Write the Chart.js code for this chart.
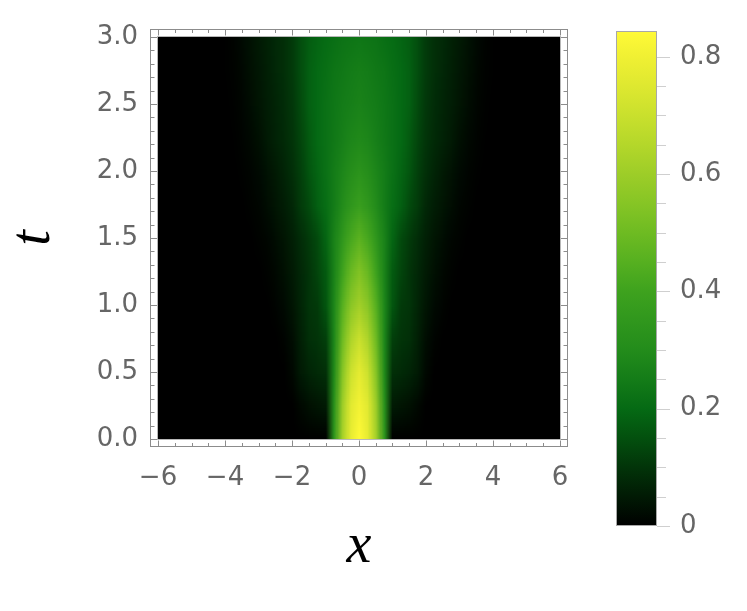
<!DOCTYPE html>
<html>
<head>
<meta charset="utf-8">
<script src="https://cdn.jsdelivr.net/npm/chart.js@4.4.1/dist/chart.umd.min.js"></script>
<style>
html,body{margin:0;padding:0;background:#ffffff;}
#wrap{position:relative;width:747px;height:611px;overflow:hidden;}
#main{position:absolute;left:0;top:0;}
#bar{position:absolute;left:590px;top:0;}
</style>
</head>
<body>
<div id="wrap">
<canvas id="main" width="747" height="611"></canvas>
<canvas id="bar" width="157" height="611"></canvas>
</div>
<script>
// ---- data ----
const xValues = [-6,-5.75,-5.5,-5.25,-5,-4.75,-4.5,-4.25,
                 -4,-3.75,-3.5,-3.25,-3,-2.75,-2.5,-2.25,
                 -2,-1.75,-1.5,-1.25,-1,-0.75,-0.5,-0.25,
                 0,
                 0.25,0.5,0.75,1,1.25,1.5,1.75,2,
                 2.25,2.5,2.75,3,3.25,3.5,3.75,4,
                 4.25,4.5,4.75,5,5.25,5.5,5.75,6];
const tValues = [0,0.25,0.5,0.75,1,1.25,1.5,1.75,2,2.25,2.5,2.75,3];

const d_t000 = [0,0,0,0,0,0,0,0, 0,0,0,0,0,0,0,0, 0,0,0,0,0,0.34,0.62,0.78, 0.844, 0.78,0.62,0.34,0,0,0,0,0, 0,0,0,0,0,0,0,0, 0,0,0,0,0,0,0,0];
const d_t025 = [0,0,0,0,0,0,0,0, 0,0,0,0,0,0,0,0, 0,0.015,0.03,0.04,0.05,0.32,0.60,0.76, 0.81, 0.76,0.60,0.32,0.05,0.04,0.03,0.015,0, 0,0,0,0,0,0,0,0, 0,0,0,0,0,0,0,0];
const d_t050 = [0,0,0,0,0,0,0,0, 0,0,0,0,0,0,0,0, 0.015,0.05,0.07,0.08,0.09,0.29,0.55,0.71, 0.77, 0.71,0.55,0.29,0.09,0.08,0.07,0.05,0.015, 0,0,0,0,0,0,0,0, 0,0,0,0,0,0,0,0];
const d_t075 = [0,0,0,0,0,0,0,0, 0,0,0,0,0,0,0,0.008, 0.025,0.06,0.09,0.10,0.12,0.28,0.50,0.64, 0.70, 0.64,0.50,0.28,0.12,0.10,0.09,0.06,0.025, 0.008,0,0,0,0,0,0,0, 0,0,0,0,0,0,0,0];
const d_t100 = [0,0,0,0,0,0,0,0, 0,0,0,0,0,0,0.008,0.02, 0.04,0.07,0.10,0.11,0.16,0.28,0.45,0.56, 0.61, 0.56,0.45,0.28,0.16,0.11,0.10,0.07,0.04, 0.02,0.008,0,0,0,0,0,0, 0,0,0,0,0,0,0,0];
const d_t125 = [0,0,0,0,0,0,0,0, 0,0,0,0,0,0.005,0.015,0.03, 0.05,0.075,0.10,0.13,0.17,0.27,0.40,0.49, 0.54, 0.49,0.40,0.27,0.17,0.13,0.10,0.075,0.05, 0.03,0.015,0.005,0,0,0,0,0, 0,0,0,0,0,0,0,0];
const d_t150 = [0,0,0,0,0,0,0,0, 0,0,0,0,0.005,0.012,0.025,0.04, 0.06,0.085,0.11,0.14,0.19,0.27,0.35,0.42, 0.46, 0.42,0.35,0.27,0.19,0.14,0.11,0.085,0.06, 0.04,0.025,0.012,0.005,0,0,0,0, 0,0,0,0,0,0,0,0];
const d_t175 = [0,0,0,0,0,0,0,0, 0,0,0,0.005,0.012,0.025,0.04,0.055, 0.075,0.11,0.14,0.18,0.21,0.25,0.30,0.35, 0.38, 0.35,0.30,0.25,0.21,0.18,0.14,0.11,0.075, 0.055,0.04,0.025,0.012,0.005,0,0,0, 0,0,0,0,0,0,0,0];
const d_t200 = [0,0,0,0,0,0,0,0, 0,0,0.004,0.01,0.02,0.035,0.05,0.07, 0.09,0.12,0.16,0.19,0.22,0.25,0.28,0.31, 0.33, 0.31,0.28,0.25,0.22,0.19,0.16,0.12,0.09, 0.07,0.05,0.035,0.02,0.01,0.004,0,0, 0,0,0,0,0,0,0,0];
const d_t225 = [0,0,0,0,0,0,0,0, 0,0.002,0.008,0.018,0.03,0.05,0.065,0.08, 0.10,0.13,0.17,0.20,0.22,0.24,0.26,0.28, 0.29, 0.28,0.26,0.24,0.22,0.20,0.17,0.13,0.10, 0.08,0.065,0.05,0.03,0.018,0.008,0.002,0, 0,0,0,0,0,0,0,0];
const d_t250 = [0,0,0,0,0,0,0,0, 0,0.004,0.012,0.025,0.04,0.055,0.07,0.085, 0.105,0.14,0.18,0.20,0.22,0.235,0.25,0.26, 0.27, 0.26,0.25,0.235,0.22,0.20,0.18,0.14,0.105, 0.085,0.07,0.055,0.04,0.025,0.012,0.004,0, 0,0,0,0,0,0,0,0];
const d_t275 = [0,0,0,0,0,0,0,0, 0.001,0.006,0.016,0.03,0.045,0.06,0.075,0.09, 0.11,0.145,0.18,0.20,0.215,0.23,0.24,0.25, 0.255, 0.25,0.24,0.23,0.215,0.20,0.18,0.145,0.11, 0.09,0.075,0.06,0.045,0.03,0.016,0.006,0.001, 0,0,0,0,0,0,0,0];
const d_t300 = [0,0,0,0,0,0,0,0, 0.002,0.008,0.02,0.035,0.05,0.064,0.078,0.09, 0.11,0.145,0.175,0.19,0.205,0.215,0.225,0.23, 0.235, 0.23,0.225,0.215,0.205,0.19,0.175,0.145,0.11, 0.09,0.078,0.064,0.05,0.035,0.02,0.008,0.002, 0,0,0,0,0,0,0,0];
const densityRows = [d_t000,d_t025,d_t050,d_t075,d_t100,d_t125,d_t150,d_t175,d_t200,d_t225,d_t250,d_t275,d_t300];

const xTickValues = [-6,-4,-2,0,2,4,6];
const xTickLabels = ['\u22126','\u22124','\u22122','0','2','4','6'];
const xMinorTicks = [-5.5,-5,-4.5,-3.5,-3,-2.5,-1.5,-1,-0.5,0.5,1,1.5,2.5,3,3.5,4.5,5,5.5];
const tTickValues = [0,0.5,1,1.5,2,2.5,3];
const tTickLabels = ['0.0','0.5','1.0','1.5','2.0','2.5','3.0'];
const tMinorTicks = [0.1,0.2,0.3,0.4,0.6,0.7,0.8,0.9,1.1,1.2,1.3,1.4,1.6,1.7,1.8,1.9,2.1,2.2,2.3,2.4,2.6,2.7,2.8,2.9];
const barTickValues = [0,0.2,0.4,0.6,0.8];
const barTickLabels = ['0','0.2','0.4','0.6','0.8'];
const barMinorTicks = [0.05,0.1,0.15,0.25,0.3,0.35,0.45,0.5,0.55,0.65,0.7,0.75];

// ---- colour scale (style) ----
const cmapStops = [
  [0,[0,0,0]],[0.05,[1,26,4]],[0.1,[2,52,9]],[0.15,[3,80,14]],[0.2,[5,106,20]],
  [0.25,[20,124,24]],[0.3,[35,140,27]],[0.35,[48,151,29]],[0.4,[62,162,30]],
  [0.45,[86,176,32]],[0.5,[110,187,34]],[0.55,[134,197,37]],[0.6,[157,205,40]],
  [0.65,[180,215,42]],[0.7,[201,224,45]],[0.75,[222,232,48]],[0.8,[240,240,51]],
  [0.844,[255,250,55]]
];
function colorFor(v){
  if (v <= cmapStops[0][0]) return cmapStops[0][1];
  for (let i=1;i<cmapStops.length;i++){
    const [v1,c1] = cmapStops[i];
    if (v <= v1){
      const [v0,c0] = cmapStops[i-1];
      const f = (v-v0)/(v1-v0);
      return [0,1,2].map(k=>Math.round(c0[k]+(c1[k]-c0[k])*f));
    }
  }
  return cmapStops[cmapStops.length-1][1];
}
const maxVal = Math.max(...densityRows.map(r=>Math.max(...r)));

const tickFont = {family:"'DejaVu Sans', 'Liberation Sans', Arial, sans-serif", size:26};
const labelColor = '#666666';
const frameColor = '#8c8c8c';

const heatPlugin = {
  id:'heat',
  beforeDatasetsDraw(chart){
    const {ctx} = chart; const x = chart.scales.x, y = chart.scales.y;
    const nx = xValues.length, nt = tValues.length;
    const off = document.createElement('canvas'); off.width = nx; off.height = nt;
    const octx = off.getContext('2d');
    const img = octx.createImageData(nx, nt);
    for (let r=0;r<nt;r++){
      const row = densityRows[r];
      for (let c=0;c<nx;c++){
        const col = colorFor(row[c]);
        const i = ((nt-1-r)*nx + c)*4;
        img.data[i]=col[0]; img.data[i+1]=col[1]; img.data[i+2]=col[2]; img.data[i+3]=255;
      }
    }
    octx.putImageData(img,0,0);
    const dx = xValues[1]-xValues[0], dt = tValues[1]-tValues[0];
    const L = x.getPixelForValue(xValues[0]-dx/2), R = x.getPixelForValue(xValues[nx-1]+dx/2);
    const T = y.getPixelForValue(tValues[nt-1]+dt/2), B = y.getPixelForValue(tValues[0]-dt/2);
    const cl = x.getPixelForValue(xValues[0]), cr = x.getPixelForValue(xValues[nx-1]);
    const ct = y.getPixelForValue(tValues[nt-1]), cb = y.getPixelForValue(tValues[0]);
    ctx.save();
    ctx.beginPath(); ctx.rect(cl, ct, cr-cl, cb-ct); ctx.clip();
    ctx.imageSmoothingEnabled = true; ctx.imageSmoothingQuality = 'low';
    ctx.drawImage(off, L, T, R-L, B-T);
    ctx.restore();
  }
};

const framePlugin = {
  id:'frame',
  afterDraw(chart){
    const {ctx, chartArea:a} = chart; const x = chart.scales.x, y = chart.scales.y;
    ctx.save();
    ctx.lineWidth = 1;
    const l = Math.round(x.getPixelForValue(xValues[0])), r = Math.round(x.getPixelForValue(xValues[xValues.length-1]));
    const tp = Math.round(y.getPixelForValue(tValues[tValues.length-1])), bt = Math.round(y.getPixelForValue(tValues[0]));
    ctx.strokeStyle = '#b8b8b8';
    ctx.strokeRect(l-0.5, tp-0.5, r-l+1, bt-tp+1);
    const L = Math.round(a.left)+0.5, R = Math.round(a.right)-0.5, T = Math.round(a.top)+0.5, B = Math.round(a.bottom)-0.5;
    ctx.strokeStyle = frameColor;
    ctx.strokeRect(L, T, R-L, B-T);
    ctx.beginPath();
    const xt = (v,len)=>{ const p = Math.round(x.getPixelForValue(v))+0.5;
      ctx.moveTo(p,B); ctx.lineTo(p,B-len); ctx.moveTo(p,T); ctx.lineTo(p,T+len); };
    const yt = (v,len)=>{ const p = Math.round(y.getPixelForValue(v))+0.5;
      ctx.moveTo(L,p); ctx.lineTo(L+len,p); ctx.moveTo(R,p); ctx.lineTo(R-len,p); };
    xTickValues.forEach(v=>xt(v,6)); xMinorTicks.forEach(v=>xt(v,3.5));
    tTickValues.forEach(v=>yt(v,6.5)); tMinorTicks.forEach(v=>yt(v,4));
    ctx.stroke();
    ctx.restore();
  }
};

new Chart(document.getElementById('main'), {
  type:'scatter',
  data:{datasets:[{data:[], pointRadius:0}]},
  options:{
    responsive:false, animation:false, devicePixelRatio:1, events:[],
    layout:{padding:{left:0, top:29, right:179, bottom:0}},
    plugins:{legend:{display:false}, tooltip:{enabled:false}},
    scales:{
      x:{type:'linear', min:-6.24, max:6.24,
         afterBuildTicks(s){ s.ticks = xTickValues.map(v=>({value:v})); },
         afterFit(s){ s.height = 164; s.paddingLeft = 0; s.paddingRight = 0; },
         ticks:{autoSkip:false, maxRotation:0, padding:16, color:labelColor, font:tickFont,
                callback:(v,i)=>xTickLabels[i]},
         grid:{display:false, drawTicks:false}, border:{display:false},
         title:{display:true, text:'x', color:'#000',
                font:{family:"'Liberation Serif', 'Times New Roman', serif", style:'italic', size:56, lineHeight:1},
                padding:{top:0, bottom:36}}},
      y:{type:'linear', min:-0.06, max:3.06,
         afterBuildTicks(s){ s.ticks = tTickValues.map(v=>({value:v})); },
         afterFit(s){ s.width = 150; s.paddingTop = 0; s.paddingBottom = 0; },
         ticks:{autoSkip:false, padding:12, color:labelColor, font:tickFont,
                callback:(v,i)=>tTickLabels[i]},
         grid:{display:false, drawTicks:false}, border:{display:false},
         title:{display:true, text:'t', color:'#000',
                font:{family:"'Liberation Serif', 'Times New Roman', serif", style:'italic', size:56, lineHeight:1},
                padding:{top:6, bottom:0}}}
    }
  },
  plugins:[heatPlugin, framePlugin]
});

const barPlugin = {
  id:'colorbar',
  beforeDatasetsDraw(chart){
    const {ctx, chartArea:a} = chart; const y = chart.scales.y;
    const yb = y.getPixelForValue(0), yt = y.getPixelForValue(maxVal);
    const g = ctx.createLinearGradient(0, yb, 0, yt);
    cmapStops.forEach(([v,c])=>{ g.addColorStop(Math.min(1, v/maxVal), 'rgb('+c.join(',')+')'); });
    ctx.save();
    ctx.fillStyle = g;
    ctx.fillRect(a.left, yt, a.right-a.left, yb-yt);
    ctx.strokeStyle = '#a8a8a8'; ctx.lineWidth = 1;
    ctx.strokeRect(Math.round(a.left)+0.5, Math.round(yt)+0.5, Math.round(a.right-a.left)-1, Math.round(yb-yt)-1);
    ctx.strokeStyle = '#cfcfcf';
    ctx.beginPath();
    const R = Math.round(a.right);
    barTickValues.forEach(v=>{ const p = Math.round(y.getPixelForValue(v))+0.5; ctx.moveTo(R,p); ctx.lineTo(R+13,p); });
    barMinorTicks.forEach(v=>{ const p = Math.round(y.getPixelForValue(v))+0.5; ctx.moveTo(R,p); ctx.lineTo(R+9,p); });
    ctx.stroke();
    ctx.restore();
  }
};

new Chart(document.getElementById('bar'), {
  type:'scatter',
  data:{datasets:[{data:[], pointRadius:0}]},
  options:{
    responsive:false, animation:false, devicePixelRatio:1, events:[],
    layout:{padding:{left:26, top:31, right:0, bottom:85}},
    plugins:{legend:{display:false}, tooltip:{enabled:false}},
    scales:{
      x:{type:'linear', display:false, min:0, max:1},
      y:{type:'linear', position:'right', min:0, max:maxVal,
         afterBuildTicks(s){ s.ticks = barTickValues.map(v=>({value:v})); },
         afterFit(s){ s.width = 90; s.paddingTop = 0; s.paddingBottom = 0; },
         ticks:{autoSkip:false, padding:23, color:labelColor, font:tickFont,
                callback:(v,i)=>barTickLabels[i]},
         grid:{display:false, drawTicks:false}, border:{display:false}}
    }
  },
  plugins:[barPlugin]
});
</script>
</body>
</html>
